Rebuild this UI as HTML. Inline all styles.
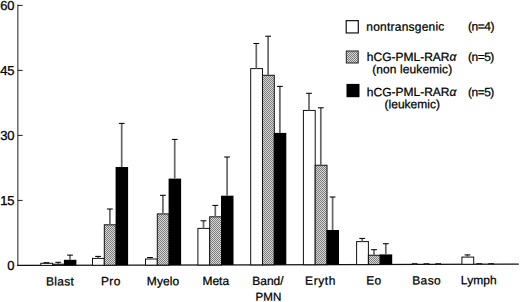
<!DOCTYPE html>
<html><head><meta charset="utf-8"><style>
html,body{margin:0;padding:0;background:#fff;}
body{width:520px;height:302px;overflow:hidden;}
svg{display:block;}
text{font-family:"Liberation Sans",sans-serif;fill:#000;stroke:#000;stroke-width:0.25px;}
.yl{font-size:13px;stroke-width:0.3px;}
.xl{font-size:12px;}
.lg{font-size:12px;}
</style></head><body>
<svg width="520" height="302" viewBox="0 0 520 302">
<defs>
<pattern id="hatch" width="2" height="2" patternUnits="userSpaceOnUse">
<rect width="2" height="2" fill="#d8d8d8"/>
<rect width="1" height="1" fill="#7c7c7c"/>
<rect x="1" y="1" width="1" height="1" fill="#7c7c7c"/>
</pattern>
</defs>
<rect width="520" height="302" fill="#fff"/>
<line x1="17.85" y1="4.6" x2="17.85" y2="265.90000000000003" stroke="#333" stroke-width="1.1"/>
<line x1="17.2" y1="265.46" x2="518.8" y2="264.16" stroke="#111" stroke-width="1.25"/>
<text x="14.6" y="269.90" text-anchor="end" class="yl" transform="rotate(-0.155 14.6 269.90)">0</text>
<line x1="17.8" y1="200.40" x2="22.6" y2="200.40" stroke="#111" stroke-width="0.95"/>
<text x="14.6" y="204.90" text-anchor="end" class="yl" transform="rotate(-0.155 14.6 204.90)">15</text>
<line x1="17.8" y1="135.40" x2="22.6" y2="135.40" stroke="#111" stroke-width="0.95"/>
<text x="14.6" y="139.90" text-anchor="end" class="yl" transform="rotate(-0.155 14.6 139.90)">30</text>
<line x1="17.8" y1="70.40" x2="22.6" y2="70.40" stroke="#111" stroke-width="0.95"/>
<text x="14.6" y="74.90" text-anchor="end" class="yl" transform="rotate(-0.155 14.6 74.90)">45</text>
<line x1="17.8" y1="5.40" x2="22.6" y2="5.40" stroke="#111" stroke-width="0.95"/>
<text x="14.6" y="9.90" text-anchor="end" class="yl" transform="rotate(-0.155 14.6 9.90)">60</text>
<rect x="40.80" y="263.30" width="11.8" height="2.08" fill="#fff" stroke="#111" stroke-width="1.0"/>
<line x1="43.50" y1="262.70" x2="49.30" y2="262.70" stroke="#000" stroke-width="1.05"/>
<rect x="52.60" y="264.20" width="11.8" height="1.15" fill="url(#hatch)" stroke="#111" stroke-width="1.0"/>
<line x1="58.20" y1="264.20" x2="58.20" y2="262.30" stroke="#666" stroke-width="1.7"/>
<line x1="55.30" y1="262.30" x2="61.10" y2="262.30" stroke="#000" stroke-width="1.05"/>
<rect x="63.90" y="259.80" width="12.50" height="5.52" fill="#000"/>
<line x1="70.00" y1="259.80" x2="70.00" y2="255.10" stroke="#666" stroke-width="1.7"/>
<line x1="67.10" y1="255.10" x2="72.90" y2="255.10" stroke="#000" stroke-width="1.05"/>
<rect x="92.50" y="258.40" width="11.8" height="6.85" fill="#fff" stroke="#111" stroke-width="1.0"/>
<line x1="98.10" y1="258.40" x2="98.10" y2="256.40" stroke="#666" stroke-width="1.7"/>
<line x1="95.20" y1="256.40" x2="101.00" y2="256.40" stroke="#000" stroke-width="1.05"/>
<rect x="104.30" y="224.80" width="11.8" height="40.41" fill="url(#hatch)" stroke="#111" stroke-width="1.0"/>
<line x1="109.90" y1="224.80" x2="109.90" y2="209.00" stroke="#666" stroke-width="1.7"/>
<line x1="107.00" y1="209.00" x2="112.80" y2="209.00" stroke="#000" stroke-width="1.05"/>
<rect x="115.60" y="167.00" width="12.50" height="98.18" fill="#000"/>
<line x1="121.70" y1="167.00" x2="121.70" y2="123.40" stroke="#666" stroke-width="1.7"/>
<line x1="118.80" y1="123.40" x2="124.60" y2="123.40" stroke="#000" stroke-width="1.05"/>
<rect x="145.50" y="259.00" width="11.8" height="6.11" fill="#fff" stroke="#111" stroke-width="1.0"/>
<line x1="150.00" y1="259.00" x2="150.00" y2="257.50" stroke="#666" stroke-width="1.7"/>
<line x1="147.10" y1="257.50" x2="152.90" y2="257.50" stroke="#000" stroke-width="1.05"/>
<rect x="157.30" y="213.90" width="11.8" height="51.18" fill="url(#hatch)" stroke="#111" stroke-width="1.0"/>
<line x1="162.90" y1="213.90" x2="162.90" y2="195.30" stroke="#666" stroke-width="1.7"/>
<line x1="160.00" y1="195.30" x2="165.80" y2="195.30" stroke="#000" stroke-width="1.05"/>
<rect x="168.60" y="178.60" width="12.50" height="86.45" fill="#000"/>
<line x1="174.70" y1="178.60" x2="174.70" y2="139.40" stroke="#666" stroke-width="1.7"/>
<line x1="171.80" y1="139.40" x2="177.60" y2="139.40" stroke="#000" stroke-width="1.05"/>
<rect x="197.90" y="228.40" width="11.8" height="36.57" fill="#fff" stroke="#111" stroke-width="1.0"/>
<line x1="203.50" y1="228.40" x2="203.50" y2="220.80" stroke="#666" stroke-width="1.7"/>
<line x1="200.60" y1="220.80" x2="206.40" y2="220.80" stroke="#000" stroke-width="1.05"/>
<rect x="209.70" y="216.80" width="11.8" height="48.14" fill="url(#hatch)" stroke="#111" stroke-width="1.0"/>
<line x1="215.30" y1="216.80" x2="215.30" y2="205.40" stroke="#666" stroke-width="1.7"/>
<line x1="212.40" y1="205.40" x2="218.20" y2="205.40" stroke="#000" stroke-width="1.05"/>
<rect x="221.00" y="195.70" width="12.50" height="69.21" fill="#000"/>
<line x1="227.10" y1="195.70" x2="227.10" y2="157.00" stroke="#666" stroke-width="1.7"/>
<line x1="224.20" y1="157.00" x2="230.00" y2="157.00" stroke="#000" stroke-width="1.05"/>
<rect x="250.70" y="68.60" width="11.8" height="196.24" fill="#fff" stroke="#111" stroke-width="1.0"/>
<line x1="256.30" y1="68.60" x2="256.30" y2="43.50" stroke="#666" stroke-width="1.7"/>
<line x1="253.40" y1="43.50" x2="259.20" y2="43.50" stroke="#000" stroke-width="1.05"/>
<rect x="262.50" y="75.30" width="11.8" height="189.50" fill="url(#hatch)" stroke="#111" stroke-width="1.0"/>
<line x1="268.10" y1="75.30" x2="268.10" y2="36.20" stroke="#666" stroke-width="1.7"/>
<line x1="265.20" y1="36.20" x2="271.00" y2="36.20" stroke="#000" stroke-width="1.05"/>
<rect x="273.80" y="132.90" width="12.50" height="131.87" fill="#000"/>
<line x1="279.90" y1="132.90" x2="279.90" y2="86.40" stroke="#666" stroke-width="1.7"/>
<line x1="277.00" y1="86.40" x2="282.80" y2="86.40" stroke="#000" stroke-width="1.05"/>
<rect x="303.40" y="110.45" width="11.8" height="154.25" fill="#fff" stroke="#111" stroke-width="1.0"/>
<line x1="309.00" y1="110.45" x2="309.00" y2="93.30" stroke="#666" stroke-width="1.7"/>
<line x1="306.10" y1="93.30" x2="311.90" y2="93.30" stroke="#000" stroke-width="1.05"/>
<rect x="315.20" y="165.25" width="11.8" height="99.42" fill="url(#hatch)" stroke="#111" stroke-width="1.0"/>
<line x1="320.80" y1="165.25" x2="320.80" y2="107.80" stroke="#666" stroke-width="1.7"/>
<line x1="317.90" y1="107.80" x2="323.70" y2="107.80" stroke="#000" stroke-width="1.05"/>
<rect x="326.50" y="230.00" width="12.50" height="34.64" fill="#000"/>
<line x1="332.60" y1="230.00" x2="332.60" y2="197.00" stroke="#666" stroke-width="1.7"/>
<line x1="329.70" y1="197.00" x2="335.50" y2="197.00" stroke="#000" stroke-width="1.05"/>
<rect x="356.60" y="241.60" width="11.8" height="22.96" fill="#fff" stroke="#111" stroke-width="1.0"/>
<line x1="362.20" y1="241.60" x2="362.20" y2="238.40" stroke="#666" stroke-width="1.7"/>
<line x1="359.30" y1="238.40" x2="365.10" y2="238.40" stroke="#000" stroke-width="1.05"/>
<rect x="368.40" y="255.25" width="11.8" height="9.28" fill="url(#hatch)" stroke="#111" stroke-width="1.0"/>
<line x1="374.00" y1="255.25" x2="374.00" y2="249.70" stroke="#666" stroke-width="1.7"/>
<line x1="371.10" y1="249.70" x2="376.90" y2="249.70" stroke="#000" stroke-width="1.05"/>
<rect x="379.70" y="254.40" width="12.50" height="10.10" fill="#000"/>
<line x1="385.80" y1="254.40" x2="385.80" y2="243.70" stroke="#666" stroke-width="1.7"/>
<line x1="382.90" y1="243.70" x2="388.70" y2="243.70" stroke="#000" stroke-width="1.05"/>
<line x1="414.70" y1="264.60" x2="414.70" y2="263.80" stroke="#666" stroke-width="1.7"/>
<line x1="411.80" y1="263.80" x2="417.60" y2="263.80" stroke="#000" stroke-width="1.05"/>
<line x1="426.50" y1="264.60" x2="426.50" y2="263.80" stroke="#666" stroke-width="1.7"/>
<line x1="423.60" y1="263.80" x2="429.40" y2="263.80" stroke="#000" stroke-width="1.05"/>
<line x1="438.30" y1="264.60" x2="438.30" y2="263.80" stroke="#666" stroke-width="1.7"/>
<line x1="435.40" y1="263.80" x2="441.20" y2="263.80" stroke="#000" stroke-width="1.05"/>
<rect x="461.90" y="257.10" width="11.8" height="7.19" fill="#fff" stroke="#111" stroke-width="1.0"/>
<line x1="467.50" y1="257.10" x2="467.50" y2="254.90" stroke="#666" stroke-width="1.7"/>
<line x1="464.60" y1="254.90" x2="470.40" y2="254.90" stroke="#000" stroke-width="1.05"/>
<line x1="479.30" y1="264.60" x2="479.30" y2="263.80" stroke="#666" stroke-width="1.7"/>
<line x1="476.40" y1="263.80" x2="482.20" y2="263.80" stroke="#000" stroke-width="1.05"/>
<line x1="491.10" y1="264.60" x2="491.10" y2="263.80" stroke="#666" stroke-width="1.7"/>
<line x1="488.20" y1="263.80" x2="494.00" y2="263.80" stroke="#000" stroke-width="1.05"/>
<text x="60.05" y="285.50" text-anchor="middle" class="xl" style="letter-spacing:0.3px" transform="rotate(-0.155 60.05 285.50)">Blast</text>
<text x="110.92" y="285.35" text-anchor="middle" class="xl" style="letter-spacing:0.45px" transform="rotate(-0.155 110.92 285.35)">Pro</text>
<text x="163.05" y="285.20" text-anchor="middle" class="xl" style="letter-spacing:0.1px" transform="rotate(-0.155 163.05 285.20)">Myelo</text>
<text x="215.75" y="285.05" text-anchor="middle" class="xl" style="letter-spacing:0.0px" transform="rotate(-0.155 215.75 285.05)">Meta</text>
<text x="267.95" y="284.90" text-anchor="middle" class="xl" style="letter-spacing:0.0px" transform="rotate(-0.155 267.95 284.90)">Band/</text>
<text x="320.55" y="284.75" text-anchor="middle" class="xl" style="letter-spacing:0.6px" transform="rotate(-0.155 320.55 284.75)">Eryth</text>
<text x="373.77" y="284.59" text-anchor="middle" class="xl" style="letter-spacing:0.15px" transform="rotate(-0.155 373.77 284.59)">Eo</text>
<text x="426.70" y="284.44" text-anchor="middle" class="xl" style="letter-spacing:0.4px" transform="rotate(-0.155 426.70 284.44)">Baso</text>
<text x="478.85" y="284.29" text-anchor="middle" class="xl" style="letter-spacing:0.1px" transform="rotate(-0.155 478.85 284.29)">Lymph</text>
<text x="268.5" y="300.7" text-anchor="middle" class="xl" style="font-size:11.6px" transform="rotate(-0.155 268.5 300.7)">PMN</text>

<rect x="346.2" y="20.65" width="12.1" height="12.3" fill="#fff" stroke="#111" stroke-width="1.2"/>
<rect x="346.3" y="51.0" width="11.9" height="12.0" fill="url(#hatch)" stroke="#222" stroke-width="1.0"/>
<rect x="346.5" y="83.9" width="13" height="13.3" fill="#000"/>
<text x="366.3" y="30.8" class="lg" style="letter-spacing:0.22px" transform="rotate(-0.155 366.3 30.8)">nontransgenic</text>
<text x="468.0" y="30.6" class="lg" style="letter-spacing:-0.45px" transform="rotate(-0.155 468.0 30.6)">(n=4)</text>
<text x="366.8" y="61.1" class="lg" transform="rotate(-0.155 366.8 61.1)">hCG-PML-RAR<tspan font-style="italic">α</tspan></text>
<text x="468.0" y="61.0" class="lg" style="letter-spacing:-0.5px" transform="rotate(-0.155 468.0 61.0)">(n=5)</text>
<text x="372.2" y="73.4" class="lg" style="letter-spacing:0.1px" transform="rotate(-0.155 372.2 73.4)">(non leukemic)</text>
<text x="366.8" y="96.2" class="lg" transform="rotate(-0.155 366.8 96.2)">hCG-PML-RAR<tspan font-style="italic">α</tspan></text>
<text x="468.0" y="96.3" class="lg" style="letter-spacing:-0.5px" transform="rotate(-0.155 468.0 96.3)">(n=5)</text>
<text x="384.6" y="108.4" class="lg" transform="rotate(-0.155 384.6 108.4)">(leukemic)</text>

</svg>
</body></html>
